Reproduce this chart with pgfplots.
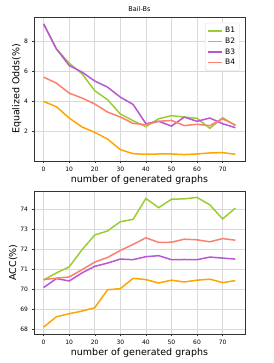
\documentclass[border=0pt]{standalone}
\usepackage{pgfplots}
\pgfplotsset{compat=1.18}
\usepackage{fontspec}
\setmainfont{DejaVu Sans}
\definecolor{cB1}{HTML}{9ACD32}
\definecolor{cB2}{HTML}{FFA500}
\definecolor{cB3}{HTML}{BA55D3}
\definecolor{cB4}{HTML}{FA8072}
\pgfplotsset{
  myax/.style={
    scale only axis, width=211pt, height=144pt,
    xmin=-3.75, xmax=78.75,
    xtick={0,10,...,70},
    grid=major, major grid style={gray!30, line width=0.6pt},
    axis line style={black!80, line width=0.5pt},
    tick style={black!80, line width=0.4pt},
    tick align=outside, major tick length=2.5pt,
    xtick pos=bottom, ytick pos=left,
    tick label style={font=\fontsize{6}{7}\selectfont},
    label style={font=\fontsize{9.5}{11}\selectfont},
    /pgf/number format/assume math mode=true,
    every axis plot/.append style={line width=1.5pt},
    xlabel={number of generated graphs},
    xlabel style={yshift=3pt},
    ylabel style={yshift=-4pt},
  }
}
\begin{document}
\begin{tikzpicture}
\path[use as bounding box] (0,0) rectangle (273pt,-363pt);
\begin{axis}[myax, at={(34pt,-17pt)}, anchor=north west,
  ymin=-0.01, ymax=9.64, ytick={2,4,6,8},
  ylabel={Equalized Odds(\%)},
  title={Bail-Bs}, title style={font=\fontsize{6.5}{7}\selectfont, yshift=-4pt},
  legend style={at={(0.975,0.96)}, anchor=north east, font=\fontsize{7.5}{8}\selectfont,
    draw=gray!30, rounded corners=1.5pt, row sep=-0.5pt, inner sep=2.5pt},
  legend cell align=left,
  legend image code/.code={\draw[#1, line width=1.5pt] (0pt,0pt) -- (14pt,0pt);},
]
\addplot[cB1] coordinates {(0,9.18)(5,7.50)(10,6.55)(15,5.84)(20,4.70)(25,4.10)(30,3.14)(35,2.69)(40,2.29)(45,2.82)(50,3.03)(55,2.93)(60,2.85)(65,2.18)(70,2.89)(75,2.36)};
\addplot[cB2] coordinates {(0,3.98)(5,3.63)(10,2.87)(15,2.27)(20,1.91)(25,1.46)(30,0.75)(35,0.48)(40,0.44)(45,0.46)(50,0.46)(55,0.42)(60,0.46)(65,0.53)(70,0.55)(75,0.44)};
\addplot[cB3] coordinates {(0,9.18)(5,7.51)(10,6.39)(15,5.95)(20,5.35)(25,4.94)(30,4.27)(35,3.78)(40,2.49)(45,2.65)(50,2.33)(55,2.93)(60,2.65)(65,2.87)(70,2.49)(75,2.22)};
\addplot[cB4] coordinates {(0,5.61)(5,5.21)(10,4.54)(15,4.21)(20,3.81)(25,3.27)(30,2.94)(35,2.51)(40,2.42)(45,2.65)(50,2.71)(55,2.36)(60,2.45)(65,2.36)(70,2.82)(75,2.40)};
\legend{B1,B2,B3,B4}
\end{axis}
\begin{axis}[myax, at={(34pt,-191pt)}, anchor=north west, height=143pt,
  ymin=67.78, ymax=74.9, ytick={68,69,...,74},
  ylabel={ACC(\%)},
]
\addplot[cB1] coordinates {(0,70.47)(5,70.82)(10,71.12)(15,71.97)(20,72.71)(25,72.91)(30,73.37)(35,73.49)(40,74.53)(45,74.07)(50,74.49)(55,74.51)(60,74.58)(65,74.21)(70,73.51)(75,74.05)};
\addplot[cB2] coordinates {(0,68.12)(5,68.64)(10,68.79)(15,68.92)(20,69.09)(25,69.98)(30,70.04)(35,70.55)(40,70.49)(45,70.32)(50,70.46)(55,70.37)(60,70.46)(65,70.51)(70,70.34)(75,70.44)};
\addplot[cB3] coordinates {(0,70.09)(5,70.54)(10,70.42)(15,70.82)(20,71.15)(25,71.31)(30,71.51)(35,71.48)(40,71.63)(45,71.68)(50,71.48)(55,71.49)(60,71.48)(65,71.61)(70,71.56)(75,71.51)};
\addplot[cB4] coordinates {(0,70.49)(5,70.56)(10,70.62)(15,70.98)(20,71.36)(25,71.59)(30,71.94)(35,72.24)(40,72.57)(45,72.34)(50,72.35)(55,72.50)(60,72.47)(65,72.37)(70,72.53)(75,72.45)};
\end{axis}
\end{tikzpicture}
\end{document}
